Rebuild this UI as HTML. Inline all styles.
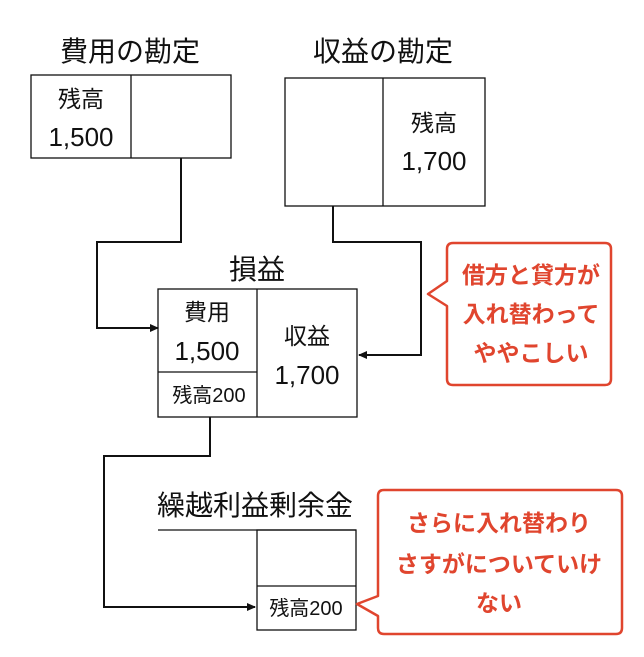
<!DOCTYPE html>
<html><head><meta charset="utf-8"><style>
html,body{margin:0;padding:0;background:#fff;}
svg{display:block;}
text{font-family:"Liberation Sans","Noto Sans CJK JP",sans-serif;fill:#111;}
.r{fill:#e0452e;font-weight:bold;font-size:23px;}
</style></head><body>
<svg width="644" height="657" viewBox="0 0 644 657" xmlns="http://www.w3.org/2000/svg">
<defs><marker id="a" markerWidth="10" markerHeight="10" refX="8" refY="5" orient="auto" markerUnits="userSpaceOnUse"><path d="M0,1 L9,5 L0,9 Z" fill="#111"/></marker></defs>
<g fill="none" stroke="#111" stroke-width="1.3">
<rect x="31" y="75" width="200" height="83"/><line x1="131" y1="75" x2="131" y2="158"/>
<rect x="285" y="78" width="200" height="128"/><line x1="383" y1="78" x2="383" y2="206"/>
<rect x="158" y="289" width="199" height="128"/><line x1="257" y1="289" x2="257" y2="417"/><line x1="158" y1="372" x2="257" y2="372"/>
<line x1="158" y1="530" x2="356" y2="530"/>
<rect x="257" y="530" width="99" height="100"/><line x1="257" y1="586" x2="356" y2="586"/>
</g>
<g fill="none" stroke="#111" stroke-width="2">
<polyline points="181,158 181,242 97,242 97,328 158,328" marker-end="url(#a)"/>
<polyline points="333,206 333,242 421,242 421,355 359,355" marker-end="url(#a)"/>
<polyline points="210,417 210,456 104,456 104,607 255,607" marker-end="url(#a)"/>
</g>
<g font-size="28" text-anchor="middle">
<text x="130" y="61">費用の勘定</text>
<text x="383" y="61">収益の勘定</text>
<text x="257" y="279">損益</text>
</g>
<text x="157" y="515" font-size="28">繰越利益剰余金</text>
<g font-size="23" text-anchor="middle">
<text x="81" y="107">残高</text><text x="81" y="146" font-size="26">1,500</text>
<text x="434" y="131">残高</text><text x="434" y="170" font-size="26">1,700</text>
<text x="207" y="320">費用</text><text x="207" y="360" font-size="26">1,500</text>
<text x="307" y="344">収益</text><text x="307" y="384" font-size="26">1,700</text>
</g>
<g font-size="20" text-anchor="middle">
<text x="209" y="402">残高200</text>
<text x="306" y="615">残高200</text>
</g>
<g fill="#fff" stroke="#e0452e" stroke-width="2.5" stroke-linejoin="round">
<path d="M453,243 H605 Q611,243 611,249 V379 Q611,385 605,385 H453 Q447,385 447,379 V306 L428,294 L447,281 V249 Q447,243 453,243 Z"/>
<path d="M384,490 H616 Q622,490 622,496 V628 Q622,634 616,634 H384 Q378,634 378,628 V616 L357,604 L378,596 V496 Q378,490 384,490 Z"/>
</g>
<g text-anchor="middle">
<text class="r" x="531" y="283">借方と貸方が</text>
<text class="r" x="531" y="322">入れ替わって</text>
<text class="r" x="531" y="361">ややこしい</text>
<text class="r" x="499" y="531">さらに入れ替わり</text>
<text class="r" x="499" y="572">さすがについていけ</text>
<text class="r" x="499" y="611">ない</text>
</g>
</svg>
</body></html>
